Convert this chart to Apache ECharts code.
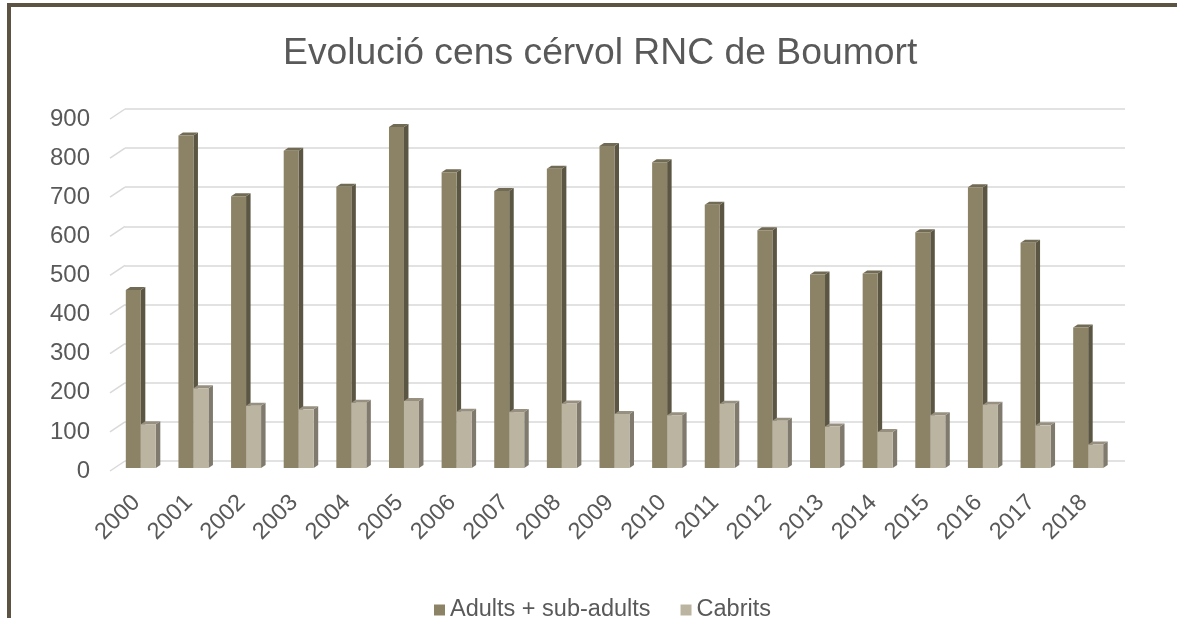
<!DOCTYPE html>
<html>
<head>
<meta charset="utf-8">
<title>Evolució cens cérvol RNC de Boumort</title>
<script src="https://cdn.jsdelivr.net/npm/echarts@6.0.0/dist/echarts.min.js"></script>
<style>
  html, body { margin: 0; padding: 0; background: #fff; }
  #chart { width: 1177px; height: 618px; }
</style>
</head>
<body>
<div id="chart"></div>
<script>
const years = ['2000', '2001', '2002', '2003', '2004', '2005', '2006', '2007', '2008', '2009',
  '2010', '2011', '2012', '2013', '2014', '2015', '2016', '2017', '2018']
const adults = [455, 850, 695, 811, 719, 872, 756, 708, 765, 823, 782, 673, 608, 495, 497, 603, 718, 576, 359]
const cabrits = [112, 204, 159, 150, 167, 171, 144, 143, 165, 138, 135, 164, 121, 106, 92, 135, 162, 109, 60]
const yTicks = [0, 100, 200, 300, 400, 500, 600, 700, 800, 900]

const textColor = '#595959'
const font = '"Liberation Sans", Arial, sans-serif'

// fals 3D: cara frontal desplaçada respecte la paret del fons
const FRONT_DX = -10.5
const FRONT_DY = 7
const DEPTH_DX = 4.5
const DEPTH_DY = -3

const adultColors = { front: '#8C8266', side: '#5B5543', top: '#716A54' }
const cabritColors = { front: '#BBB4A1', side: '#7F7A6D', top: '#979080' }

const bar3d = (side, colors) => (params, api) => {
  const i = api.value(0)
  const v = api.value(1)
  const top = api.coord([i, v])
  const base = api.coord([i, 0])
  const band = api.size([1, 0])[0]
  const w = band * 0.285
  const x0 = top[0] + FRONT_DX + (side === 0 ? -w : 0)
  const x1 = x0 + w
  const yt = top[1] + FRONT_DY
  const yb = base[1] + FRONT_DY
  return {
    type: 'group',
    children: [
      { type: 'polygon', shape: { points: [[x1, yt], [x1 + DEPTH_DX, yt + DEPTH_DY], [x1 + DEPTH_DX, yb + DEPTH_DY], [x1, yb]] }, style: { fill: colors.side } },
      { type: 'polygon', shape: { points: [[x0, yt], [x1, yt], [x1 + DEPTH_DX, yt + DEPTH_DY], [x0 + DEPTH_DX, yt + DEPTH_DY]] }, style: { fill: colors.top } },
      { type: 'rect', shape: { x: x0, y: yt, width: w, height: yb - yt }, style: { fill: colors.front } }
    ]
  }
}

// tros inclinat de les línies de la graella (paret lateral)
const slantLine = (params, api) => {
  const p = api.coord([0, api.value(1)])
  const gx = params.coordSys.x
  return {
    type: 'line',
    shape: { x1: gx, y1: p[1], x2: gx - 15, y2: p[1] + 10 },
    style: { stroke: '#D9D9D9', lineWidth: 1.5 }
  }
}

const chart = echarts.init(document.getElementById('chart'))

const option = {
  animation: false,
  backgroundColor: '#fff',
  textStyle: { fontFamily: font, color: textColor },
  title: {
    text: 'Evolució cens cérvol RNC de Boumort',
    left: 278,
    top: 30,
    textStyle: { fontFamily: font, fontSize: 37.3, fontWeight: 'normal', color: textColor }
  },
  legend: {
    left: 429,
    top: 593,
    itemWidth: 11,
    itemHeight: 11,
    itemGap: 30,
    icon: 'rect',
    data: ['Adults + sub-adults', 'Cabrits'],
    textStyle: { fontFamily: font, fontSize: 23.5, color: textColor }
  },
  grid: [
    { left: 125, right: 52, top: 109, bottom: 157, outerBoundsMode: 'none' },
    { left: 110, right: 67, top: 119, bottom: 147, outerBoundsMode: 'none' }
  ],
  xAxis: [
    { gridIndex: 0, type: 'category', data: years, axisLine: { show: false }, axisTick: { show: false }, axisLabel: { show: false } },
    {
      gridIndex: 1, type: 'category', data: years,
      axisLine: { show: false }, axisTick: { show: false },
      axisLabel: { rotate: 45, margin: 28, fontSize: 23.5, color: textColor, fontFamily: font, interval: 0 }
    }
  ],
  yAxis: [
    {
      gridIndex: 0, type: 'value', min: 0, max: 900, interval: 100,
      axisLine: { show: false }, axisTick: { show: false }, axisLabel: { show: false },
      splitLine: { lineStyle: { color: '#D9D9D9', width: 1.5 } }
    },
    {
      gridIndex: 1, type: 'value', min: 0, max: 900, interval: 100,
      axisLine: { show: false }, axisTick: { show: false }, splitLine: { show: false },
      axisLabel: { margin: 20, fontSize: 24, color: textColor, fontFamily: font }
    }
  ],
  series: [
    {
      name: 'grid-slant', type: 'custom', xAxisIndex: 0, yAxisIndex: 0, silent: true, z: 1,
      renderItem: slantLine,
      data: yTicks.map(t => [0, t]),
      encode: { x: 0, y: 1 }
    },
    {
      name: 'Adults + sub-adults', type: 'custom', xAxisIndex: 0, yAxisIndex: 0, z: 2,
      itemStyle: { color: adultColors.front },
      renderItem: bar3d(0, adultColors),
      data: years.map((y, i) => [i, adults[i]]),
      encode: { x: 0, y: 1 }
    },
    {
      name: 'Cabrits', type: 'custom', xAxisIndex: 0, yAxisIndex: 0, z: 3,
      itemStyle: { color: cabritColors.front },
      renderItem: bar3d(1, cabritColors),
      data: years.map((y, i) => [i, cabrits[i]]),
      encode: { x: 0, y: 1 }
    }
  ],
  graphic: [
    {
      type: 'rect', silent: true, z: 100,
      shape: { x: 9, y: 5, width: 1400, height: 800 },
      style: { fill: null, stroke: '#5B5443', lineWidth: 4 }
    }
  ]
}

chart.setOption(option)

window.addEventListener('resize', () => chart.resize())
</script>
</body>
</html>
